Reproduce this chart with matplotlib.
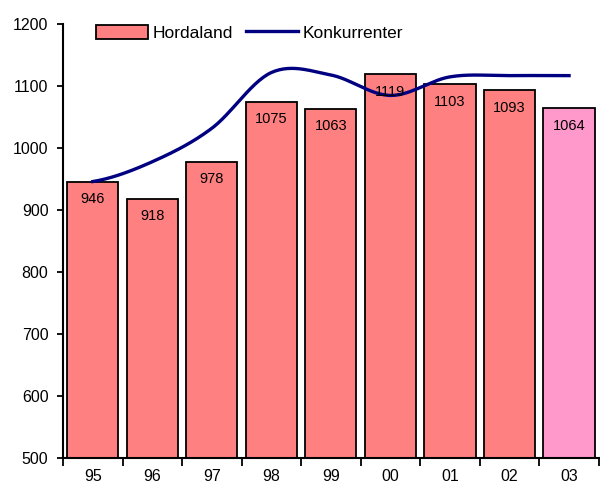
import numpy as np
import matplotlib
matplotlib.use("Agg")
import matplotlib.pyplot as plt
from matplotlib.patches import Patch
from matplotlib.lines import Line2D

plt.rcParams["font.family"] = ["Liberation Sans", "DejaVu Sans"]

# Data
years = ["95", "96", "97", "98", "99", "00", "01", "02", "03"]
hordaland = [946, 918, 978, 1075, 1063, 1119, 1103, 1093, 1064]
konkurrenter = [946, 978, 1032, 1122, 1118, 1085, 1115, 1117, 1117]
bar_colors = ["#FF8080"] * 8 + ["#FF99CC"]


def smooth(xs, ys, steps=30):
    # Catmull-Rom style smoothing, like Excel's smoothed line
    xs = np.asarray(xs, float)
    ys = np.asarray(ys, float)
    px = np.concatenate([[2 * xs[0] - xs[1]], xs, [2 * xs[-1] - xs[-2]]])
    py = np.concatenate([[ys[0]], ys, [ys[-1]]])
    out_x, out_y = [], []
    for i in range(1, len(px) - 2):
        t = np.linspace(0, 1, steps)
        for arr, out in ((px, out_x), (py, out_y)):
            p0, p1, p2, p3 = arr[i - 1], arr[i], arr[i + 1], arr[i + 2]
            out.extend(0.5 * ((2 * p1) + (-p0 + p2) * t
                              + (2 * p0 - 5 * p1 + 4 * p2 - p3) * t ** 2
                              + (-p0 + 3 * p1 - 3 * p2 + p3) * t ** 3))
    return out_x, out_y


fig = plt.figure(figsize=(6.0, 4.84), dpi=100)
ax = fig.add_axes([0.105, 0.054, 0.893, 0.896])

x = np.arange(len(years))
ax.bar(x, hordaland, width=0.86, color=bar_colors, edgecolor="black",
       linewidth=1.3, zorder=2)

for xi, v in zip(x, hordaland):
    ax.annotate(str(v), (xi, v), xytext=(0, -12.5), textcoords="offset points",
                ha="center", va="center", fontsize=10.5, zorder=4)

sx, sy = smooth(x, konkurrenter)
ax.plot(sx, sy, color="#000080", linewidth=2.4, zorder=3)

ax.set_ylim(500, 1200)
ax.set_xlim(-0.5, len(years) - 0.5)
ax.set_yticks(range(500, 1201, 100))
ax.set_xticks(x)
ax.set_xticklabels(years)
ax.set_xticks(np.arange(-0.5, len(years), 1), minor=True)
ax.tick_params(axis="x", which="major", length=0, pad=8, labelsize=11.5)
ax.tick_params(axis="x", which="minor", length=6, width=1.3, direction="out")
ax.tick_params(axis="y", length=4.5, width=1.3, pad=6, labelsize=11.5)

for side in ["top", "right"]:
    ax.spines[side].set_visible(False)
for side in ["left", "bottom"]:
    ax.spines[side].set_linewidth(1.5)

handles = [Patch(facecolor="#FF8080", edgecolor="black", linewidth=1.3),
           Line2D([0], [0], color="#000080", linewidth=2.4)]
ax.legend(handles, ["Hordaland", "Konkurrenter"], ncol=2, frameon=False,
          loc="upper left", bbox_to_anchor=(0.032, 1.035), fontsize=12.5,
          handlelength=3.0, handleheight=0.9, handletextpad=0.3,
          columnspacing=0.7)

fig.savefig("out.png", dpi=100)
